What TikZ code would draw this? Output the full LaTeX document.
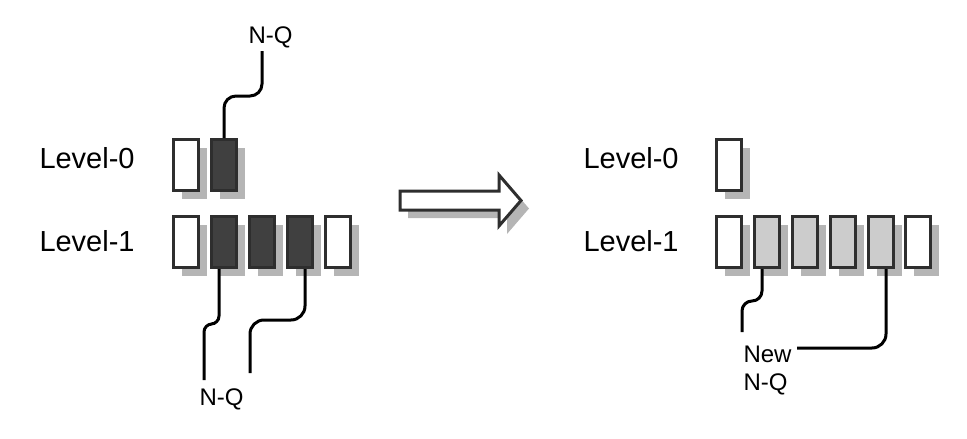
\documentclass[tikz,border=0pt]{standalone}
\usepackage{fontspec}
\setmainfont{Liberation Sans}
\usetikzlibrary{shadows}

\definecolor{boxline}{HTML}{2E2E2E}
\definecolor{oldfill}{HTML}{404040}
\definecolor{newfill}{HTML}{CCCCCC}
\definecolor{shade}{HTML}{B5B5B5}

\begin{document}
\begin{tikzpicture}[x=1pt,y=-1pt, line width=3pt]
                \tikzstyle{slot} = [draw=boxline, fill=white, rectangle, inner sep=0pt, minimum width=25pt, minimum height=51pt, drop shadow={shadow xshift=8pt, shadow yshift=-8pt, fill=shade, opacity=1}]
                \tikzstyle{old} = [slot, fill=oldfill]
                \tikzstyle{fresh} = [slot, fill=newfill]
                \tikzstyle{level} = [font=\fontsize{29}{34}\selectfont, inner sep=0pt, anchor=base west]
                \tikzstyle{tag} = [font=\fontsize{24}{28}\selectfont, inner sep=0pt, anchor=base west]
                \tikzstyle{wire} = [draw=black, line width=3pt, rounded corners=12pt]

                \useasboundingbox (0,0) rectangle (967,439);

                % Left: before the merge
                \node[level] (lev0a) at (38,168) {Level-0};
                \node[level] (lev1a) at (38,251) {Level-1};

                \node[slot] (a0a) at (186,165) {};
                \node[old] (a0b) at (224,165) {};

                \node[slot] (a1a) at (186,242) {};
                \node[old] (a1b) at (224,242) {};
                \node[old] (a1c) at (262,242) {};
                \node[old] (a1d) at (300,242) {};
                \node[slot] (a1e) at (338,242) {};

                \node[tag] (nqtop) at (247,43) {N-Q};
                \node[tag] (nqbot) at (198,405) {N-Q};

                % Free wire ends
                \coordinate (t0) at (262,51);
                \coordinate (b1) at (204,380);
                \coordinate (b2) at (250,373);

                \draw[wire] (t0) -- ++(0,45) -| (a0b.north);
                \draw[wire, rounded corners=8pt] ([xshift=-5pt]a1b.south) -- ++(0,55) -| (b1);
                \draw[wire, rounded corners=14pt] ([xshift=5pt]a1d.south) -- ++(0,51) -| (b2);

                % Big arrow
                \draw[draw=boxline, fill=white, line width=3pt, drop shadow={shadow xshift=8pt, shadow yshift=-8pt, fill=shade, opacity=1}]
                    (400,191) -- (499,191) -- (499,175) -- (521,200.5) -- (499,226) -- (499,210) -- (400,210) -- cycle;

                % Right: after the merge
                \node[level] (lev0b) at (582,168) {Level-0};
                \node[level] (lev1b) at (582,251) {Level-1};

                \node[slot] (b0a) at (729,165) {};

                \node[slot] (b1a) at (729,242) {};
                \node[fresh] (b1b) at (767,242) {};
                \node[fresh] (b1c) at (805,242) {};
                \node[fresh] (b1d) at (843,242) {};
                \node[fresh] (b1e) at (881,242) {};
                \node[slot] (b1f) at (918,242) {};

                \node[tag] (newlbl) at (742,362) {New};
                \node[tag] (newnq) at (742,390) {N-Q};

                \coordinate (r1) at (742,332);
                \coordinate (r2) at (797,348);

                \draw[wire, rounded corners=10pt] ([xshift=-5pt]b1b.south) -- ++(0,32) -| (r1);
                \draw[wire, rounded corners=14pt] ([xshift=5pt]b1e.south) |- (r2);
            \end{tikzpicture}
\end{document}
